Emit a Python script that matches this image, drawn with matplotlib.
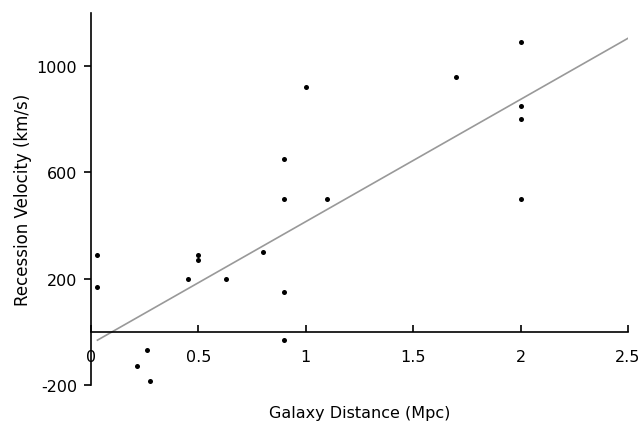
import matplotlib.pyplot as plt
import numpy as np

plt.rcParams["axes.unicode_minus"] = False

# Galaxy distance (Mpc) and recession velocity (km/s)
distance = [0.03, 0.03, 0.214, 0.263, 0.275, 0.45, 0.5, 0.5, 0.63, 0.8,
            0.9, 0.9, 0.9, 0.9, 1.0, 1.1, 1.7, 2.0, 2.0, 2.0, 2.0]
velocity = [290, 170, -130, -70, -185, 200, 290, 270, 200, 300,
            -30, 650, 500, 150, 920, 500, 960, 1090, 850, 800, 500]

# best fit line
fit_x = [0.03, 2.5]
fit_slope = 460
fit_intercept = -45

x_ticks = [0, 0.5, 1, 1.5, 2, 2.5]
x_labels = ["0", "0.5", "1", "1.5", "2", "2.5"]
y_ticks = [-200, 200, 600, 1000]

fig = plt.figure(figsize=(6.44, 4.27), dpi=100)
ax = fig.add_axes([0.1413, 0.096, 0.975 - 0.1413, 0.967 - 0.096])

fx = np.array(fit_x)
ax.plot(fx, fit_slope * fx + fit_intercept, color="#999999", lw=1.2, zorder=2)
ax.scatter(distance, velocity, s=13, color="black", zorder=3, linewidths=0)

ax.set_xlim(0, 2.5)
ax.set_ylim(-200, 1200)

ax.spines["right"].set_visible(False)
ax.spines["top"].set_visible(False)
ax.spines["bottom"].set_position(("data", 0))
ax.spines["left"].set_linewidth(1.2)
ax.spines["bottom"].set_linewidth(1.2)

ax.set_xticks(x_ticks)
ax.set_xticklabels(x_labels)
ax.set_yticks(y_ticks)
ax.tick_params(axis="x", direction="in", length=5, width=1.2, pad=12, labelsize=11.5)
ax.tick_params(axis="y", direction="out", length=5, width=1.2, pad=5, labelsize=11.5)

ax.set_xlabel("Galaxy Distance (Mpc)", fontsize=11.5)
ax.xaxis.set_label_coords(0.5, -0.055)
ax.set_ylabel("Recession Velocity (km/s)", fontsize=12)
ax.yaxis.set_label_coords(-0.11, 0.5)

fig.savefig("out.png", dpi=100)
